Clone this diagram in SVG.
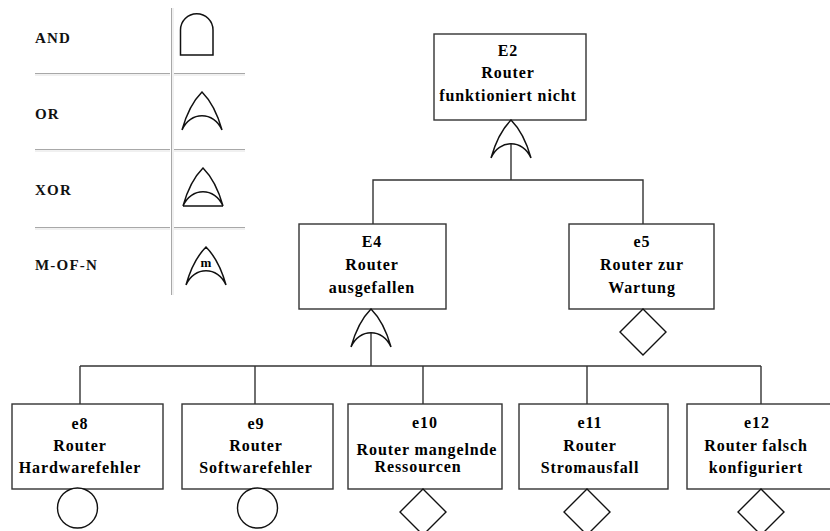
<svg xmlns="http://www.w3.org/2000/svg" xmlns:xlink="http://www.w3.org/1999/xlink" width="830" height="531" viewBox="0 0 830 531">
  <style>
    .box { fill: #fff; stroke: #333; stroke-width: 1.4; }
    .wire { fill: none; stroke: #333; stroke-width: 1.4; }
    .gate { fill: #fff; stroke: #111; stroke-width: 1.5; stroke-linejoin: miter; }
    .basic { fill: #fff; stroke: #111; stroke-width: 1.4; }
    .lbl { font-family: "Liberation Serif", "Times New Roman", serif; font-weight: bold; font-size: 16px; letter-spacing: 0.9px; text-anchor: middle; fill: #000; }
    .key { font-family: "Liberation Serif", "Times New Roman", serif; font-weight: bold; font-size: 15px; letter-spacing: 1.2px; fill: #111; }
    .rule-dark { stroke: #a8a8a8; stroke-width: 1; }
    .rule-light { stroke: #e2e2e2; stroke-width: 1; }
  </style>
  <defs>
    <!-- OR gate outline, apex at origin -->
    <path id="orGate" d="M0,0 Q13,13 20,38 C12,19 -12,19 -20,38 Q-13,13 0,0 Z"/>
    <!-- event diamond, top at origin -->
    <path id="diamond" d="M0,0 L23,23 L0,46 L-23,23 Z"/>
  </defs>

  <rect width="830" height="531" fill="#fff"/>

  <!-- legend table -->
  <g id="legend">
    <line class="rule-dark" x1="171.5" y1="8" x2="171.5" y2="295"/>
    <line class="rule-light" x1="173" y1="8" x2="173" y2="295"/>
    <line class="rule-dark" x1="35" y1="73.5" x2="170" y2="73.5"/>
    <line class="rule-light" x1="35" y1="75" x2="170" y2="75"/>
    <line class="rule-dark" x1="174" y1="73.5" x2="245" y2="73.5"/>
    <line class="rule-light" x1="174" y1="75" x2="245" y2="75"/>
    <line class="rule-dark" x1="35" y1="149.5" x2="170" y2="149.5"/>
    <line class="rule-light" x1="35" y1="151" x2="170" y2="151"/>
    <line class="rule-dark" x1="174" y1="149.5" x2="245" y2="149.5"/>
    <line class="rule-light" x1="174" y1="151" x2="245" y2="151"/>
    <line class="rule-dark" x1="35" y1="227.5" x2="170" y2="227.5"/>
    <line class="rule-light" x1="35" y1="229" x2="170" y2="229"/>
    <line class="rule-dark" x1="174" y1="227.5" x2="245" y2="227.5"/>
    <line class="rule-light" x1="174" y1="229" x2="245" y2="229"/>

    <text class="key" x="35" y="43">AND</text>
    <text class="key" x="35" y="119">OR</text>
    <text class="key" x="35" y="195">XOR</text>
    <text class="key" x="35" y="270">M-OF-N</text>

    <path class="gate" d="M180.5,55 V30 A16.25,16.25 0 0 1 213,30 V55 Z"/>
    <use href="#orGate" xlink:href="#orGate" class="gate" x="202" y="92"/>
    <use href="#orGate" xlink:href="#orGate" class="gate" x="203" y="168"/>
    <line class="gate" x1="183" y1="206" x2="223" y2="206"/>
    <use href="#orGate" xlink:href="#orGate" class="gate" x="206" y="247"/>
    <text x="206" y="267" font-family="'Liberation Serif', 'Times New Roman', serif" font-weight="bold" font-size="13" text-anchor="middle">m</text>
  </g>

  <!-- connectors -->
  <g id="connectors">
    <polyline class="wire" points="511,144 511,180"/>
    <polyline class="wire" points="373,224 373,180 643,180 643,224"/>
    <polyline class="wire" points="371,333 371,366"/>
    <line class="wire" x1="80" y1="366" x2="761" y2="366"/>
    <line class="wire" x1="80" y1="366" x2="80" y2="404"/>
    <line class="wire" x1="255" y1="366" x2="255" y2="404"/>
    <line class="wire" x1="423" y1="366" x2="423" y2="404"/>
    <line class="wire" x1="587" y1="366" x2="587" y2="404"/>
    <line class="wire" x1="761" y1="366" x2="761" y2="404"/>
  </g>

  <!-- E2 top event -->
  <g id="E2">
    <rect class="box" x="434" y="34" width="152" height="86"/>
    <text class="lbl" x="508" y="56">E2</text>
    <text class="lbl" x="508" y="78">Router</text>
    <text class="lbl" x="508" y="101">funktioniert nicht</text>
    <use href="#orGate" xlink:href="#orGate" class="gate" x="511" y="120"/>
  </g>

  <!-- E4 intermediate event -->
  <g id="E4">
    <rect class="box" x="299" y="224" width="147" height="85"/>
    <text class="lbl" x="372" y="247">E4</text>
    <text class="lbl" x="372" y="270">Router</text>
    <text class="lbl" x="372" y="293">ausgefallen</text>
    <use href="#orGate" xlink:href="#orGate" class="gate" x="371" y="309"/>
  </g>

  <!-- e5 undeveloped event -->
  <g id="e5">
    <rect class="box" x="569" y="224" width="145" height="85"/>
    <text class="lbl" x="642" y="247">e5</text>
    <text class="lbl" x="642" y="270">Router zur</text>
    <text class="lbl" x="642" y="293">Wartung</text>
    <use href="#diamond" xlink:href="#diamond" class="basic" x="643" y="309"/>
  </g>

  <!-- e8 basic event -->
  <g id="e8">
    <rect class="box" x="12" y="404" width="151" height="85"/>
    <text class="lbl" x="80" y="429">e8</text>
    <text class="lbl" x="80" y="451">Router</text>
    <text class="lbl" x="80" y="473">Hardwarefehler</text>
    <circle class="basic" cx="77.5" cy="508" r="20"/>
  </g>

  <!-- e9 basic event -->
  <g id="e9">
    <rect class="box" x="182" y="404" width="151" height="85"/>
    <text class="lbl" x="256" y="429">e9</text>
    <text class="lbl" x="256" y="451">Router</text>
    <text class="lbl" x="256" y="473">Softwarefehler</text>
    <circle class="basic" cx="257.5" cy="508" r="20"/>
  </g>

  <!-- e10 undeveloped event -->
  <g id="e10">
    <rect class="box" x="348" y="404" width="154" height="85"/>
    <text class="lbl" x="425" y="428">e10</text>
    <text class="lbl" x="427" y="455">Router mangelnde</text>
    <text class="lbl" x="418" y="472">Ressourcen</text>
    <use href="#diamond" xlink:href="#diamond" class="basic" x="423" y="489"/>
  </g>

  <!-- e11 undeveloped event -->
  <g id="e11">
    <rect class="box" x="519" y="404" width="149" height="85"/>
    <text class="lbl" x="590" y="428">e11</text>
    <text class="lbl" x="590" y="451">Router</text>
    <text class="lbl" x="590" y="473">Stromausfall</text>
    <use href="#diamond" xlink:href="#diamond" class="basic" x="587" y="489"/>
  </g>

  <!-- e12 undeveloped event -->
  <g id="e12">
    <rect class="box" x="687" y="404" width="150" height="85"/>
    <text class="lbl" x="757" y="428">e12</text>
    <text class="lbl" x="756" y="451">Router falsch</text>
    <text class="lbl" x="756" y="473">konfiguriert</text>
    <use href="#diamond" xlink:href="#diamond" class="basic" x="761" y="489"/>
  </g>
</svg>
